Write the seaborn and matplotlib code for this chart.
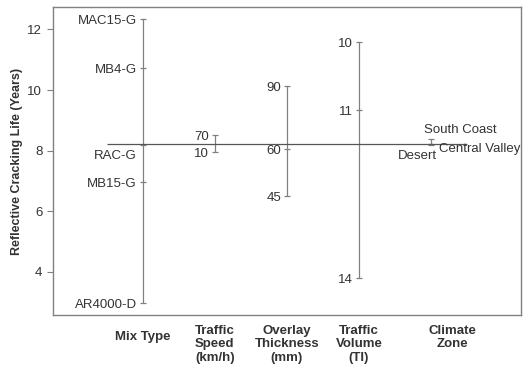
import numpy as np
import pandas as pd
import matplotlib
matplotlib.use("Agg")
import matplotlib.pyplot as plt
import matplotlib.transforms as mtransforms
import seaborn as sns

sns.set_style("white")
plt.rcParams['font.family'] = ['Liberation Sans', 'DejaVu Sans']

factors = ["Mix Type", "Traffic\nSpeed\n(km/h)", "Overlay\nThickness\n(mm)", "Traffic\nVolume\n(TI)", "Climate\nZone"]
mix_levels = ["MAC15-G", "MB4-G", "RAC-G", "MB15-G", "AR4000-D"]
mix_values = [12.34, 10.72, 8.2, 6.97, 2.96]
speed_levels = ["70", "10"]
speed_values = [8.5, 7.95]
thick_levels = ["90", "60", "45"]
thick_values = [10.13, 8.06, 6.51]
volume_levels = ["10", "11", "14"]
volume_values = [11.57, 9.34, 3.8]
climate_levels = ["South Coast", "Central Valley", "Desert"]
climate_values = [8.39, 8.22, 8.19]
overall_mean = 8.22

all_levels = [mix_levels, speed_levels, thick_levels, volume_levels, climate_levels]
all_values = [mix_values, speed_values, thick_values, volume_values, climate_values]

rows = []
for i, (lv, vals) in enumerate(zip(all_levels, all_values)):
    for name, v in zip(lv, vals):
        rows.append({"factor": i, "level": name, "life": v})
df = pd.DataFrame(rows)

# label offsets in pixels (dx, dy, ha)
label_style = {
    "RAC-G": (-6, -11, "right"),
    "South Coast": (-7, 9, "left"),
    "Central Valley": (8, -5, "left"),
    "Desert": (6, -11, "right"),
}

fig, ax = plt.subplots(figsize=(5.27, 3.69), dpi=100)
fig.subplots_adjust(left=0.1, right=0.989, top=0.981, bottom=0.146)

line_c = "#808080"
text_c = "#333333"
fs = 9.5

sns.lineplot(data=df, x="factor", y="life", units="factor", estimator=None,
             sort=False, color=line_c, lw=0.9, ax=ax, legend=False)
sns.scatterplot(data=df, x="factor", y="life", marker="_", s=25, color=line_c,
                linewidth=0.9, ax=ax, legend=False)
ax.hlines(overall_mean, -0.5, 4.5, color="#555555", lw=0.9)

for _, r in df.iterrows():
    dx, dy, ha = label_style.get(r["level"], (-6, -2, "right"))
    tr = ax.transData + mtransforms.ScaledTranslation(dx / 100, dy / 100, fig.dpi_scale_trans)
    ax.text(r["factor"], r["life"], r["level"], ha=ha, va="center", fontsize=fs,
            color=text_c, transform=tr)

xt = [0, 1, 2, 3, 4.3]
blend = mtransforms.blended_transform_factory(ax.transData, ax.transAxes)
for x, f in zip(xt, factors):
    yy = -0.05 if f == "Mix Type" else -0.032
    ax.text(x, yy, f, ha="center", va="top", fontsize=fs, fontweight="bold",
            color=text_c, transform=blend, linespacing=1.15)

ax.set_xlim(-1.25, 5.25)
ax.set_ylim(2.57, 12.74)
ax.set_xticks([])
ax.set_yticks([4, 6, 8, 10, 12])
ax.tick_params(axis="y", direction="out", length=4, color=line_c, labelsize=fs,
               labelcolor=text_c, left=True)
ax.set_xlabel("")
ax.set_ylabel("Reflective Cracking Life (Years)", fontsize=9, fontweight="bold",
              color=text_c, labelpad=3)
for s in ax.spines.values():
    s.set_color(line_c)
    s.set_linewidth(1.0)

fig.savefig("out.png", dpi=100)
